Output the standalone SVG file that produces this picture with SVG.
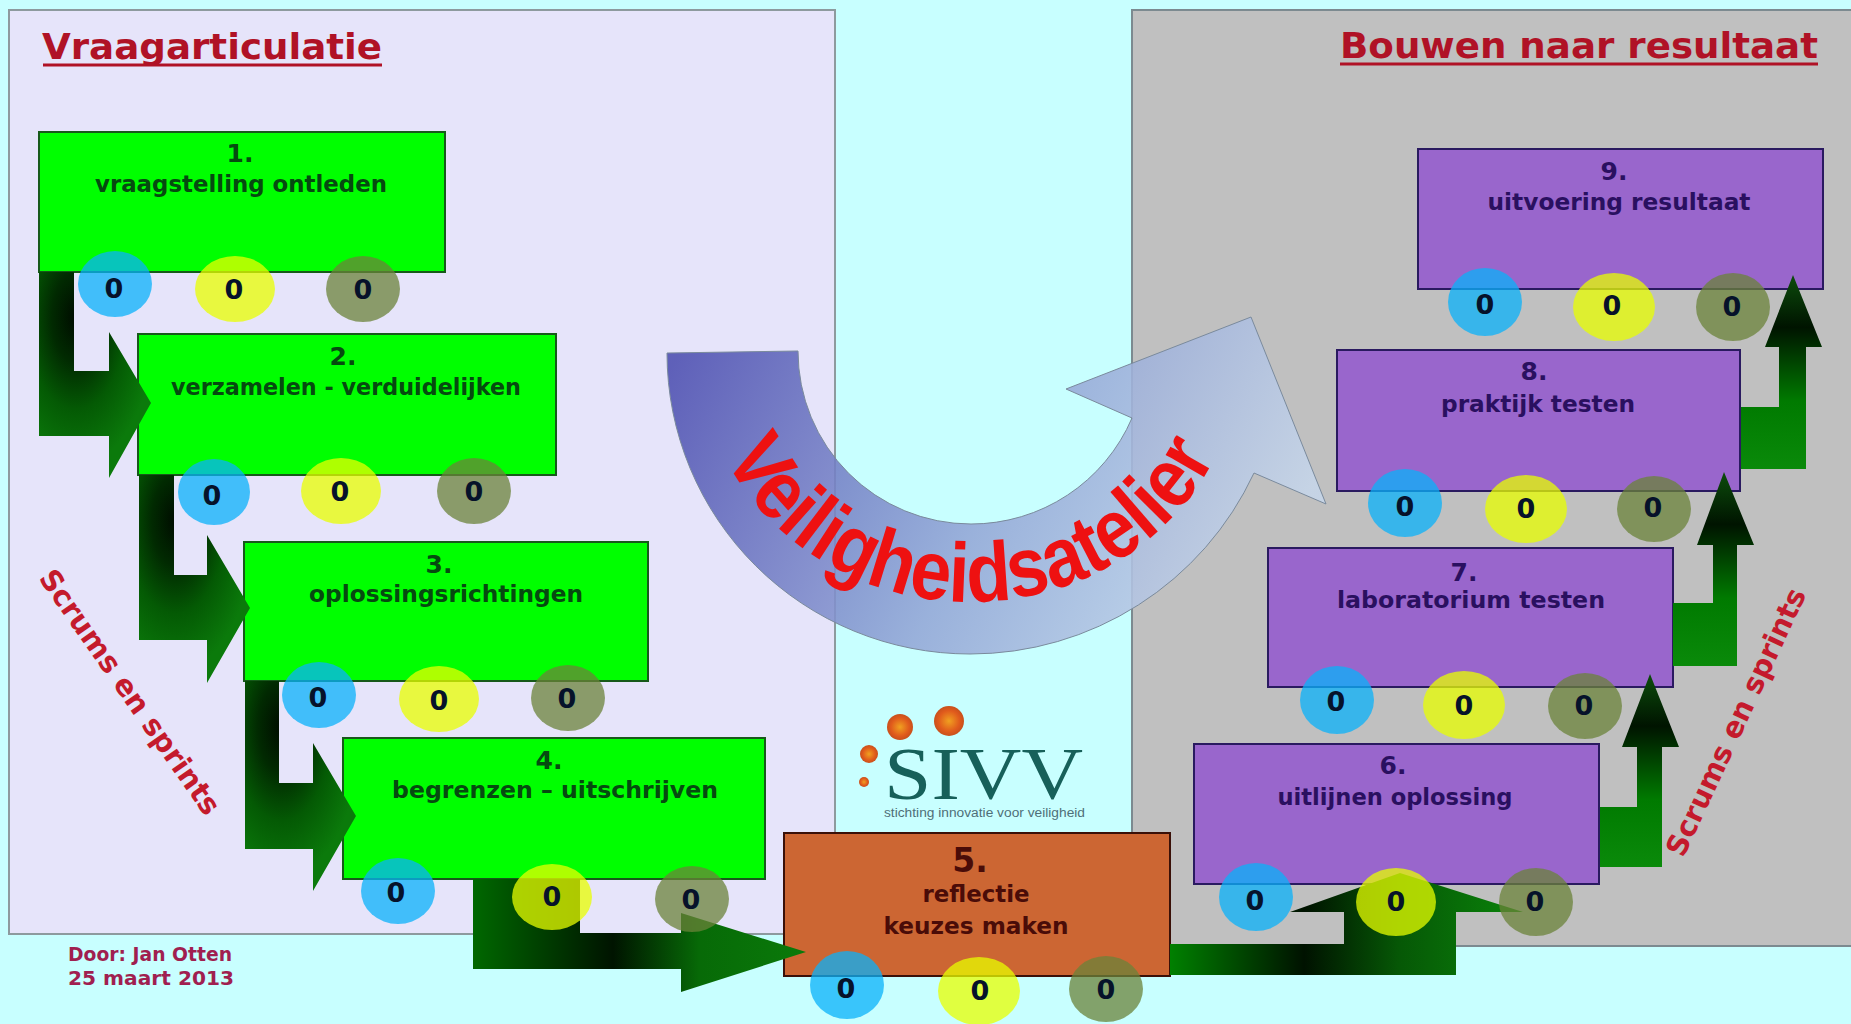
<svg xmlns="http://www.w3.org/2000/svg" width="1851" height="1024" viewBox="0 0 1851 1024">
<style>
.t{font-family:"DejaVu Sans",Verdana,sans-serif;font-weight:700;text-anchor:middle}
.lbl{font-size:23px}.num{font-size:25px}
.g .lbl,.g .num{fill:#064a10}.p .lbl,.p .num{fill:#2a1060}.o .lbl,.o .num{fill:#4a0c08}
.g rect{fill:#00ff00;stroke:#17591a;stroke-width:2}
.p rect{fill:#9966cc;stroke:#2a1a60;stroke-width:2}
.o rect{fill:#cc6633;stroke:#3a1008;stroke-width:2}
.b{fill:#0ab1fa;fill-opacity:.75}.y{fill:#e8ff00;fill-opacity:.75}.v{fill:#6b8339;fill-opacity:.75}
.z{font-family:"DejaVu Sans",sans-serif;font-weight:700;font-size:27px;text-anchor:middle;fill:#06122a}
.h{font-family:"DejaVu Sans",sans-serif;font-weight:700;font-size:36px;fill:#b01226}
.ul{stroke:#b01226;stroke-width:3;fill:none}
.s{font-family:"DejaVu Sans",sans-serif;font-weight:700;font-size:29px;text-anchor:middle;fill:#c41a2c}
.f{font-family:"DejaVu Sans",sans-serif;font-weight:700;font-size:19px;fill:#a01f50}
</style>
<defs>
<radialGradient id="gd" cx=".33" cy=".22" r=".72"><stop offset="0" stop-color="#000c00"/><stop offset=".3" stop-color="#012a01"/><stop offset=".62" stop-color="#045a04"/><stop offset="1" stop-color="#0b7a0b"/></radialGradient>
<linearGradient id="g4" gradientUnits="userSpaceOnUse" x1="473" y1="0" x2="806" y2="0"><stop offset="0" stop-color="#006800"/><stop offset=".42" stop-color="#001400"/><stop offset=".68" stop-color="#076a07"/><stop offset="1" stop-color="#0a7a0a"/></linearGradient>
<linearGradient id="g5" gradientUnits="userSpaceOnUse" x1="1170" y1="0" x2="1523" y2="0"><stop offset="0" stop-color="#008000"/><stop offset=".38" stop-color="#001200"/><stop offset=".65" stop-color="#065806"/><stop offset="1" stop-color="#0a840a"/></linearGradient>
<linearGradient id="gu" x1="0" y1="0" x2="0" y2="1"><stop offset="0" stop-color="#0c4c0c"/><stop offset=".27" stop-color="#001400"/><stop offset=".65" stop-color="#007a00"/><stop offset="1" stop-color="#0a8a0a"/></linearGradient>
<linearGradient id="arc" gradientUnits="userSpaceOnUse" x1="680" y1="350" x2="1230" y2="640"><stop offset="0" stop-color="#4c4eb0"/><stop offset=".55" stop-color="#93a6d6"/><stop offset="1" stop-color="#c6d6ea"/></linearGradient>
<radialGradient id="ball" cx=".5" cy=".5" r=".5"><stop offset="0" stop-color="#f0a020"/><stop offset=".7" stop-color="#e05a1c"/><stop offset="1" stop-color="#c8501c"/></radialGradient>
<path id="arcText" d="M698,347 A272 255 0 0 0 1242,347"/>
</defs>

<rect width="1851" height="1024" fill="#c8ffff"/>
<g id="panels">
<rect x="9" y="10" width="826" height="924" fill="#e6e4fa" stroke="#8d9a9e" stroke-width="2"/>
<rect x="1132" y="10" width="725" height="936" fill="#c0c0c0" stroke="#7c8a90" stroke-width="2"/>
</g>

<g id="titles">
<text class="h" x="42" y="59" textLength="340" lengthAdjust="spacingAndGlyphs">Vraagarticulatie</text>
<path class="ul" d="M43,65H382"/>
<text class="h" x="1340" y="58" textLength="478" lengthAdjust="spacingAndGlyphs">Bouwen naar resultaat</text>
<path class="ul" d="M1340,64H1818"/>
</g>

<g id="big-arrow">
<path d="M667,353 A303 301 0 0 0 970,654 A313 313 0 0 0 1254,473 L1326,504 L1251,317 L1066,389 L1132,418 A175 175 0 0 1 971,524 A173 173 0 0 1 798,351 Z" fill="url(#arc)" fill-opacity=".88" stroke="#7a8a9c" stroke-width="1"/>
<text font-family="'Liberation Sans',Arial,sans-serif" font-weight="700" font-size="84" fill="#ee1111"><textPath href="#arcText" startOffset="50%" text-anchor="middle" textLength="600" lengthAdjust="spacingAndGlyphs">Veiligheidsatelier</textPath></text>
</g>

<g id="node-1" class="g"><rect x="39" y="132" width="406" height="140"/><text class="t num" x="240" y="162">1.</text><text class="t lbl" x="241" y="192" textLength="292" lengthAdjust="spacingAndGlyphs">vraagstelling ontleden</text></g>
<g id="node-2" class="g"><rect x="138" y="334" width="418" height="141"/><text class="t num" x="343" y="365">2.</text><text class="t lbl" x="346" y="395" textLength="350" lengthAdjust="spacingAndGlyphs">verzamelen - verduidelijken</text></g>
<g id="node-3" class="g"><rect x="244" y="542" width="404" height="139"/><text class="t num" x="439" y="573">3.</text><text class="t lbl" x="446" y="602" textLength="274" lengthAdjust="spacingAndGlyphs">oplossingsrichtingen</text></g>
<g id="node-4" class="g"><rect x="343" y="738" width="422" height="141"/><text class="t num" x="549" y="769">4.</text><text class="t lbl" x="555" y="798" textLength="326" lengthAdjust="spacingAndGlyphs">begrenzen – uitschrijven</text></g>
<g id="node-5" class="o"><rect x="784" y="833" width="386" height="143"/><text class="t" style="font-size:33px;fill:#4a0c08" x="970" y="872">5.</text><text class="t lbl" x="976" y="902" textLength="107" lengthAdjust="spacingAndGlyphs">reflectie</text><text class="t lbl" x="976" y="934" textLength="185" lengthAdjust="spacingAndGlyphs">keuzes maken</text></g>
<g id="node-6" class="p"><rect x="1194" y="744" width="405" height="140"/><text class="t num" x="1393" y="774">6.</text><text class="t lbl" x="1395" y="805" textLength="235" lengthAdjust="spacingAndGlyphs">uitlijnen oplossing</text></g>
<g id="node-7" class="p"><rect x="1268" y="548" width="405" height="139"/><text class="t num" x="1464" y="581">7.</text><text class="t lbl" x="1471" y="608" textLength="268" lengthAdjust="spacingAndGlyphs">laboratorium testen</text></g>
<g id="node-8" class="p"><rect x="1337" y="350" width="403" height="141"/><text class="t num" x="1534" y="380">8.</text><text class="t lbl" x="1538" y="412" textLength="194" lengthAdjust="spacingAndGlyphs">praktijk testen</text></g>
<g id="node-9" class="p"><rect x="1418" y="149" width="405" height="140"/><text class="t num" x="1614" y="180">9.</text><text class="t lbl" x="1619" y="210" textLength="263" lengthAdjust="spacingAndGlyphs">uitvoering resultaat</text></g>

<g id="connectors">
<polygon fill="url(#gd)" points="39,272 74,272 74,371 109,371 109,332 151,403 109,478 109,436 39,436"/>
<polygon fill="url(#gd)" points="139,475 174,475 174,575 207,575 207,535 250,608 207,683 207,640 139,640"/>
<polygon fill="url(#gd)" points="245,681 279,681 279,783 313,783 313,743 356,816 313,891 313,849 245,849"/>
<polygon fill="url(#g4)" points="473,879 580,879 580,933 681,933 681,913 806,952 681,992 681,969 473,969"/>
<polygon fill="url(#g5)" points="1170,944 1344,944 1344,912 1290,912 1400,873 1523,912 1456,912 1456,975 1170,975"/>
<polygon fill="url(#gu)" points="1600,807 1637,807 1637,747 1622,747 1650,674 1679,747 1662,747 1662,867 1600,867"/>
<polygon fill="url(#gu)" points="1673,603 1713,603 1713,545 1697,545 1724,472 1754,545 1737,545 1737,666 1673,666"/>
<polygon fill="url(#gu)" points="1741,407 1779,407 1779,347 1765,347 1793,275 1822,347 1806,347 1806,469 1741,469"/>
</g>

<g id="tokens-1"><ellipse class="b" cx="115" cy="284" rx="37" ry="33"/><ellipse class="y" cx="235" cy="289" rx="40" ry="33"/><ellipse class="v" cx="363" cy="289" rx="37" ry="33"/><text class="z" x="114" y="298">0</text><text class="z" x="234" y="299">0</text><text class="z" x="363" y="299">0</text></g>
<g id="tokens-2"><ellipse class="b" cx="214" cy="492" rx="36" ry="33"/><ellipse class="y" cx="341" cy="491" rx="40" ry="33"/><ellipse class="v" cx="474" cy="491" rx="37" ry="33"/><text class="z" x="212" y="505">0</text><text class="z" x="340" y="501">0</text><text class="z" x="474" y="501">0</text></g>
<g id="tokens-3"><ellipse class="b" cx="319" cy="695" rx="37" ry="33"/><ellipse class="y" cx="439" cy="699" rx="40" ry="33"/><ellipse class="v" cx="568" cy="698" rx="37" ry="33"/><text class="z" x="318" y="707">0</text><text class="z" x="439" y="710">0</text><text class="z" x="567" y="708">0</text></g>
<g id="tokens-4"><ellipse class="b" cx="398" cy="891" rx="37" ry="33"/><ellipse class="y" cx="552" cy="897" rx="40" ry="33"/><ellipse class="v" cx="692" cy="899" rx="37" ry="33"/><text class="z" x="396" y="902">0</text><text class="z" x="552" y="906">0</text><text class="z" x="691" y="909">0</text></g>
<g id="tokens-5"><ellipse class="b" cx="847" cy="985" rx="37" ry="34"/><ellipse class="y" cx="979" cy="991" rx="41" ry="34"/><ellipse class="v" cx="1106" cy="989" rx="37" ry="33"/><text class="z" x="846" y="998">0</text><text class="z" x="980" y="1000">0</text><text class="z" x="1106" y="999">0</text></g>
<g id="tokens-6"><ellipse class="b" cx="1256" cy="897" rx="37" ry="34"/><ellipse class="y" cx="1396" cy="902" rx="40" ry="34"/><ellipse class="v" cx="1536" cy="902" rx="37" ry="34"/><text class="z" x="1255" y="910">0</text><text class="z" x="1396" y="911">0</text><text class="z" x="1535" y="911">0</text></g>
<g id="tokens-7"><ellipse class="b" cx="1337" cy="700" rx="37" ry="34"/><ellipse class="y" cx="1464" cy="705" rx="41" ry="34"/><ellipse class="v" cx="1585" cy="706" rx="37" ry="33"/><text class="z" x="1336" y="711">0</text><text class="z" x="1464" y="715">0</text><text class="z" x="1584" y="715">0</text></g>
<g id="tokens-8"><ellipse class="b" cx="1405" cy="503" rx="37" ry="34"/><ellipse class="y" cx="1526" cy="509" rx="41" ry="34"/><ellipse class="v" cx="1654" cy="509" rx="37" ry="33"/><text class="z" x="1405" y="516">0</text><text class="z" x="1526" y="518">0</text><text class="z" x="1653" y="517">0</text></g>
<g id="tokens-9"><ellipse class="b" cx="1485" cy="302" rx="37" ry="34"/><ellipse class="y" cx="1614" cy="307" rx="41" ry="34"/><ellipse class="v" cx="1733" cy="307" rx="37" ry="34"/><text class="z" x="1485" y="314">0</text><text class="z" x="1612" y="315">0</text><text class="z" x="1732" y="316">0</text></g>

<g id="logo">
<circle cx="900" cy="727" r="13" fill="url(#ball)"/><circle cx="949" cy="721" r="15" fill="url(#ball)"/><circle cx="869" cy="754" r="9" fill="url(#ball)"/><circle cx="864" cy="782" r="5" fill="url(#ball)"/>
<text font-family="'Liberation Serif','Times New Roman',serif" font-size="75" fill="#17605a" x="884" y="799" textLength="199" lengthAdjust="spacingAndGlyphs">SIVV</text>
<text font-family="'Liberation Sans',Arial,sans-serif" font-size="12px" fill="#4f6f78" x="884" y="817" textLength="201" lengthAdjust="spacingAndGlyphs">stichting innovatie voor veiligheid</text>
</g>

<g id="side-labels">
<text class="s" transform="translate(130,692) rotate(55)" y="10" textLength="292" lengthAdjust="spacingAndGlyphs">Scrums en sprints</text>
<text class="s" transform="translate(1736,722) rotate(-65)" y="10" textLength="292" lengthAdjust="spacingAndGlyphs">Scrums en sprints</text>
</g>
<g id="footer">
<text class="f" x="68" y="961" textLength="164" lengthAdjust="spacingAndGlyphs">Door: Jan Otten</text>
<text class="f" x="68" y="985" textLength="166" lengthAdjust="spacingAndGlyphs">25 maart 2013</text>
</g>
</svg>
